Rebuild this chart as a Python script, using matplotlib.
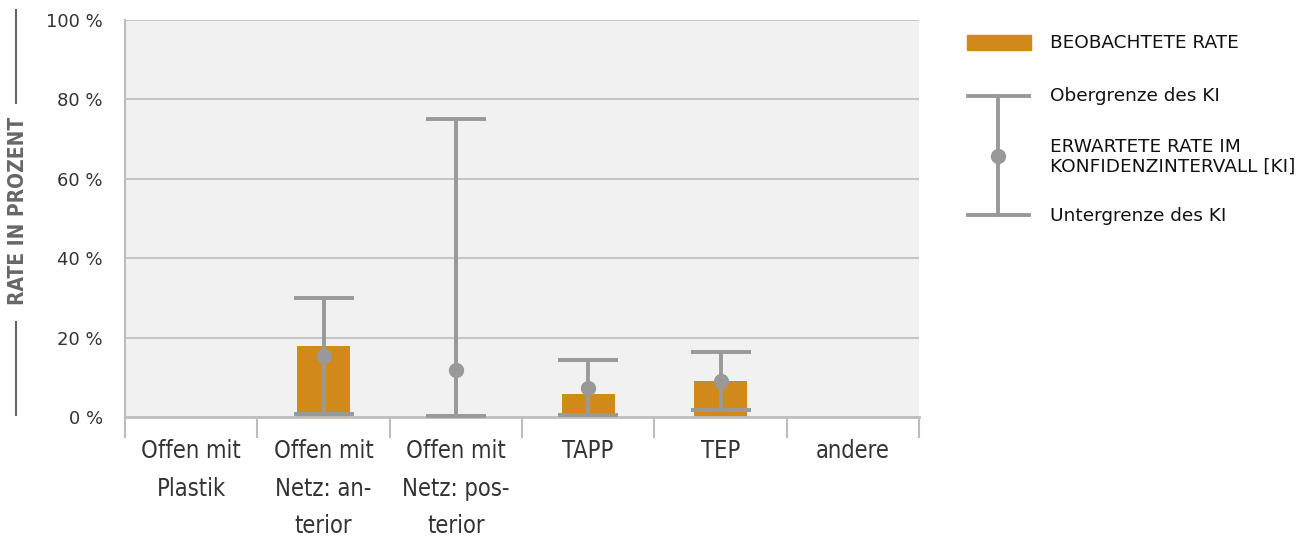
import matplotlib
matplotlib.use("Agg")
import matplotlib.pyplot as plt
import numpy as np

# Daten
kategorien = ["Offen mit\nPlastik", "Offen mit\nNetz: an-\nterior", "Offen mit\nNetz: pos-\nterior",
              "TAPP", "TEP", "andere"]
beobachtet = [np.nan, 18.0, np.nan, 5.8, 9.1, np.nan]
erwartet = [np.nan, 15.3, 11.8, 7.3, 9.1, np.nan]
ki_unten = [np.nan, 0.8, 0.3, 0.5, 1.8, np.nan]
ki_oben = [np.nan, 30.0, 75.0, 14.4, 16.4, np.nan]
y_ticks = [0, 20, 40, 60, 80, 100]

ORANGE = "#d18a1a"
GRAU = "#999999"
TEXT = "#333333"

W, H = 1311, 537
fig = plt.figure(figsize=(W / 100, H / 100), dpi=100)

def px(x0, y0, x1, y1):
    return [x0 / W, 1 - y1 / H, (x1 - x0) / W, (y1 - y0) / H]

ax = fig.add_axes(px(125, 20, 919, 417))
ax.set_facecolor("#f1f1f1")
x = np.arange(len(kategorien))
ax.set_xlim(-0.5, len(kategorien) - 0.5)
ax.set_ylim(0, 100)

for y in y_ticks[1:]:
    ax.axhline(y, color="#bdbdbd", lw=1.2, zorder=1)

ax.bar(x, beobachtet, width=0.4, color=ORANGE, zorder=2)
mitte = np.array(erwartet)
err = [mitte - np.array(ki_unten), np.array(ki_oben) - mitte]
ax.errorbar(x, mitte, yerr=err, fmt="o", color=GRAU, ms=10, elinewidth=2.8,
            capsize=21.5, capthick=2.8, zorder=3)

for s in ["top", "right"]:
    ax.spines[s].set_visible(False)
ax.spines["left"].set_color("#bdbdbd")
ax.spines["bottom"].set_color("#bdbdbd")
ax.spines["left"].set_linewidth(1.5)
ax.spines["bottom"].set_linewidth(2)

ax.set_yticks(y_ticks)
ax.set_yticklabels([f"{v} %" for v in y_ticks], fontsize=13, color=TEXT)
ax.tick_params(axis="y", length=0, pad=16)

# Trennstriche zwischen den Kategorien
ax.set_xticks(np.arange(-0.5, len(kategorien)))
ax.set_xticklabels([])
ax.tick_params(axis="x", length=15, width=1.5, color="#bdbdbd", direction="out")
for i, lab in enumerate(kategorien):
    ax.text(i, -5.5, lab, ha="center", va="top", fontsize=17, family="DejaVu Sans",
            fontstretch="condensed", color=TEXT, linespacing=1.72, clip_on=False)

# y-Achsentitel mit Linien
fig.text(18 / W, 1 - 211 / H, "RATE IN PROZENT", rotation=90, ha="center", va="center",
         fontsize=15, family="DejaVu Sans", fontstretch="condensed", fontweight="bold",
         color="#666666")
fig.add_artist(plt.Line2D([16 / W, 16 / W], [1 - 10 / H, 1 - 103 / H], color="#666666", lw=1.5))
fig.add_artist(plt.Line2D([16 / W, 16 / W], [1 - 322 / H, 1 - 415 / H], color="#666666", lw=1.5))

# Legende
lg = fig.add_axes([0, 0, 1, 1])
lg.set_xlim(0, W)
lg.set_ylim(H, 0)
lg.axis("off")
lg.add_patch(plt.Rectangle((967, 35), 64, 15, color=ORANGE))
lg.plot([998, 998], [96, 215], color=GRAU, lw=2.8)
lg.plot([968, 1029], [96, 96], color=GRAU, lw=2.8)
lg.plot([968, 1029], [215, 215], color=GRAU, lw=2.8)
lg.plot([998], [156], "o", color=GRAU, ms=10)
kw = dict(fontsize=13.3, color="#111111", va="center", ha="left")
lg.text(1050, 43, "BEOBACHTETE RATE", **kw)
lg.text(1050, 96, "Obergrenze des KI", **kw)
lg.text(1050, 157, "ERWARTETE RATE IM\nKONFIDENZINTERVALL [KI]", linespacing=1.12, **kw)
lg.text(1050, 216, "Untergrenze des KI", **kw)

fig.savefig("out.png", dpi=100, facecolor="white")
